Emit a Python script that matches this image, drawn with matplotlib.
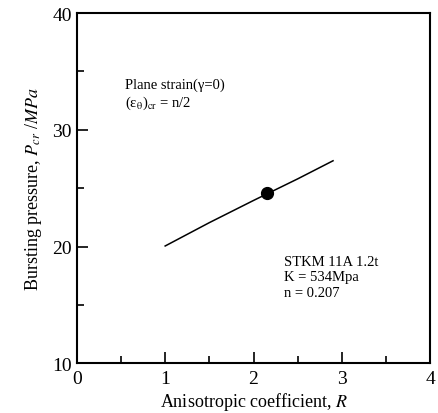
import matplotlib
matplotlib.use("Agg")
from matplotlib import pyplot as plt
from matplotlib.ticker import MultipleLocator

plt.rcParams["font.family"] = ["Liberation Serif", "DejaVu Serif"]
plt.rcParams["mathtext.fontset"] = "stix"

# anisotropic coefficient R vs. bursting pressure
r_values = [1.0, 1.5, 2.0, 2.5, 2.9]
p_values = [20.05, 22.05, 23.95, 25.8, 27.35]

# measured point
r_point = [2.15]
p_point = [24.58]

fig = plt.figure(figsize=(4.39, 4.14), dpi=100)
ax = fig.add_axes([0.175, 0.12, 0.805, 0.846])

ax.plot(r_values, p_values, color="black", linewidth=1.1)
ax.plot(r_point, p_point, "o", color="black", markersize=8.5)

ax.set_xlim(0, 4)
ax.set_ylim(10, 40)
ax.xaxis.set_major_locator(MultipleLocator(1))
ax.xaxis.set_minor_locator(MultipleLocator(0.5))
ax.yaxis.set_major_locator(MultipleLocator(10))
ax.yaxis.set_minor_locator(MultipleLocator(5))
ax.tick_params(which="both", direction="in", top=False, right=False,
               width=1.2, labelsize=14)
ax.tick_params(axis="x", pad=5)
ax.tick_params(which="major", length=8)
ax.tick_params(which="minor", length=5)
for s in ax.spines.values():
    s.set_linewidth(1.5)

ax.set_xlabel("Anisotropic coefficient, $R$", fontsize=13, labelpad=2)
ax.set_ylabel("Bursting pressure, $P_{cr}$ /$MPa$", fontsize=13, labelpad=6)

ax.text(0.55, 33.92, "Plane strain(γ=0)", fontsize=10.5, va="center")
ax.text(0.55, 32.38, "(ε$_{\\mathrm{θ}}$)$_{\\rm cr}$ = n/2", fontsize=10.5, va="center")

ax.text(2.35, 17.4, "STKM 11A 1.2t\nK = 534Mpa\nn = 0.207",
        fontsize=10.5, va="center", linespacing=1.22)

fig.savefig("out.png", dpi=100)
